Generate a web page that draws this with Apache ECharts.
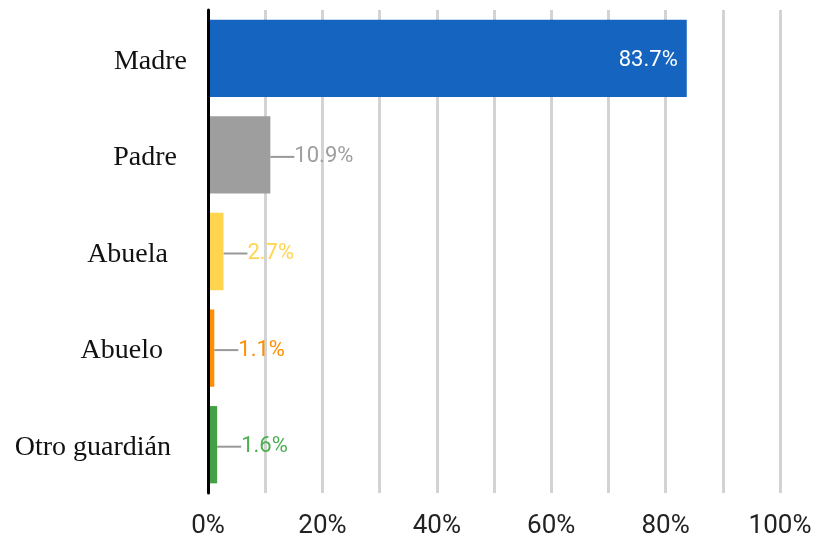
<!DOCTYPE html>
<html>
<head>
<meta charset="utf-8">
<script src="https://cdn.jsdelivr.net/npm/echarts@6/dist/echarts.min.js"></script>
<style>html,body{margin:0;padding:0;background:#fff}#c{width:817px;height:544px}</style>
</head>
<body>
<div id="c"></div>
<script>
var categories = ['Madre', 'Padre', 'Abuela', 'Abuelo', 'Otro guardián'];
var values = [83.7, 10.9, 2.7, 1.1, 1.6];
var barColors = ['#1565C0', '#9E9E9E', '#FFD54F', '#FF8F00', '#43A047'];
var labelColors = ['#FFFFFF', '#9E9E9E', '#FFD54F', '#FF8F00', '#4CAF50'];
var xTicks = [0, 20, 40, 60, 80, 100];

// per-label right padding to mimic original label placement (style only)
var catPad = [13, 23, 32, 37, 29];

var rich = {};
catPad.forEach(function (p, i) {
  rich['c' + i] = { fontFamily: 'Liberation Serif', fontSize: 28, color: '#111', padding: [6, p, 0, 0] };
});

var data = values.map(function (v, i) {
  var inside = i === 0;
  return {
    value: v,
    itemStyle: { color: barColors[i] },
    label: {
      show: true,
      position: inside ? 'insideRight' : 'right',
      distance: inside ? 9 : 0,
      color: labelColors[i]
    },
    labelLine: { show: !inside }
  };
});

var chart = echarts.init(document.getElementById('c'), null, { renderer: 'canvas' });
chart.setOption({
  animation: false,
  grid: { left: 208, right: 37, top: 10, bottom: 51, containLabel: false },
  xAxis: {
    type: 'value',
    min: 0,
    max: 100,
    interval: 10,
    axisLine: { show: false },
    axisTick: { show: false },
    splitLine: { show: true, lineStyle: { color: '#D3D3D3', width: 3 } },
    axisLabel: {
      margin: 20,
      fontFamily: 'Roboto',
      fontSize: 26,
      color: '#222',
      formatter: function (v) { return xTicks.indexOf(v) >= 0 ? v + '%' : ''; }
    }
  },
  yAxis: {
    type: 'category',
    data: categories,
    inverse: true,
    z: 10,
    axisLine: { show: true, lineStyle: { color: '#000', width: 3 } },
    axisTick: { show: false },
    axisLabel: {
      margin: 8,
      formatter: function (v, i) { return '{c' + i + '|' + v + '}'; },
      rich: rich
    }
  },
  series: [{
    type: 'bar',
    data: data,
    barCategoryGap: '20%',
    label: {
      show: true,
      fontFamily: 'Roboto',
      fontSize: 22,
      formatter: function (p) { return p.value.toFixed(1) + '%'; }
    },
    labelLine: { show: true, lineStyle: { color: '#999', width: 2 } },
    labelLayout: function (p) {
      return p.dataIndex === 0 ? { dy: 2 } : { dx: 24, dy: 2 };
    }
  }]
});
</script>
</body>
</html>
